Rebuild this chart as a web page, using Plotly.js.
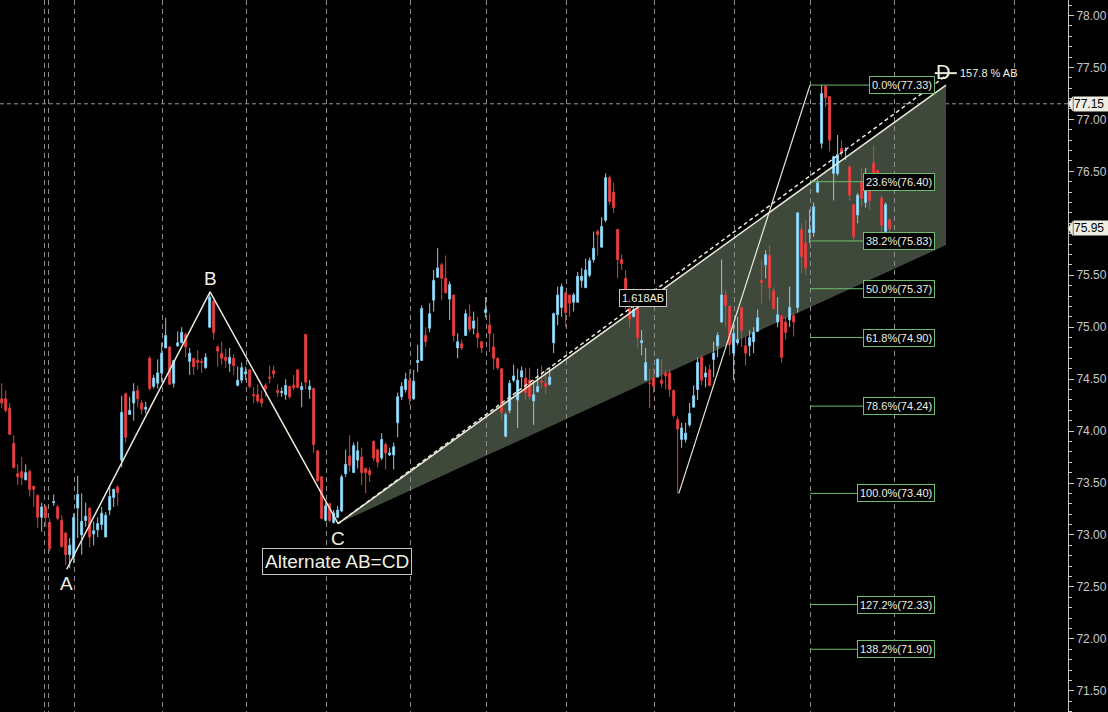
<!DOCTYPE html>
<html><head><meta charset="utf-8">
<script src="https://cdn.plot.ly/plotly-3.0.1.min.js"></script>
<style>html,body{margin:0;padding:0;background:#000;} #chart{width:1108px;height:712px;}</style>
</head><body><div id="chart"></div>
<script>
// ---- candle data (index order, oldest first) ----
const open = [74.31,74.31,74.22,73.88,73.59,73.61,73.53,73.61,73.47,73.38,73.17,73.27,73.12,73.31,73.27,73.14,73.02,72.81,72.79,73.26,
73.00,73.14,73.26,73.01,73.05,73.10,72.98,73.24,73.36,73.46,73.72,74.36,74.16,74.27,74.39,74.27,74.21,74.70,74.43,74.46,
74.56,74.80,74.81,74.46,74.82,74.85,74.93,74.67,74.70,74.68,74.67,74.61,75.00,75.25,74.81,74.75,74.71,74.65,74.70,74.44,
74.49,74.55,74.59,74.35,74.35,74.31,74.44,74.52,74.58,74.39,74.37,74.35,74.43,74.44,74.59,74.40,74.93,74.40,74.41,73.81,
73.56,73.14,73.30,73.12,73.17,73.23,73.59,73.76,73.60,73.72,73.75,73.64,73.62,73.90,73.82,73.74,73.87,73.77,73.77,74.08,
74.33,74.40,74.49,74.31,74.66,74.68,74.92,74.99,75.26,75.48,75.60,75.47,75.27,75.31,74.80,74.84,74.92,75.10,74.99,74.94,
74.86,75.14,75.02,74.81,74.70,74.60,73.95,74.20,74.49,74.30,74.52,74.51,74.49,74.29,74.38,74.48,74.46,74.45,74.85,75.12,
75.19,75.33,75.31,75.24,75.24,75.45,75.38,75.50,75.65,75.92,75.77,76.03,76.44,76.30,75.94,75.65,75.47,75.18,75.10,75.18,
74.85,74.49,74.46,74.51,74.52,74.49,74.56,74.56,74.39,74.11,73.92,73.92,74.06,74.23,74.40,74.71,74.52,74.59,74.69,74.82,
75.05,75.31,75.20,74.75,74.85,75.19,74.82,74.82,74.86,74.96,75.45,75.60,75.69,75.35,75.05,75.11,75.05,75.07,75.11,75.19,
75.94,75.81,75.91,75.91,76.30,76.77,77.32,77.22,76.48,76.48,76.72,76.70,76.54,76.18,76.08,76.40,76.20,76.35,76.58,76.51,
76.24,75.92,76.03];
const high = [74.46,74.39,74.27,73.96,73.68,73.75,73.68,73.63,73.47,73.39,73.31,73.29,73.16,73.39,73.29,73.19,73.02,72.97,73.21,73.57,
73.40,73.31,73.26,73.13,73.17,73.27,73.22,73.48,73.44,73.48,74.34,74.37,74.33,74.46,74.44,74.30,74.28,74.72,74.54,74.69,
74.85,75.09,74.81,74.68,74.96,75.00,74.95,74.80,74.70,74.78,74.70,74.75,75.34,75.26,74.83,74.86,74.79,74.80,74.74,74.62,
74.66,74.62,74.59,74.42,74.45,74.39,74.46,74.63,74.63,74.45,74.42,74.50,74.43,74.54,74.59,74.47,74.93,74.49,74.42,73.82,
73.56,73.31,73.31,73.24,73.28,73.58,73.82,73.96,73.89,73.90,73.84,73.65,73.65,73.91,73.82,73.98,73.89,73.84,73.89,74.37,
74.47,74.56,74.59,74.59,74.83,75.21,75.00,75.23,75.55,75.76,75.62,75.69,75.44,75.31,74.94,74.88,75.17,75.22,75.15,75.10,
74.86,75.29,75.13,74.94,74.71,74.60,74.18,74.49,74.64,74.60,74.62,74.61,74.61,74.49,74.60,74.63,74.59,74.61,75.14,75.39,
75.42,75.34,75.31,75.33,75.53,75.57,75.66,75.67,75.92,75.94,76.06,76.48,76.46,76.39,75.94,75.70,75.55,75.19,75.37,75.19,
74.97,74.80,74.60,74.61,74.70,74.69,74.59,74.59,74.40,74.14,74.08,74.08,74.27,74.44,74.71,74.73,74.62,74.64,74.86,74.95,
75.65,75.36,75.21,75.02,75.10,75.19,74.91,74.97,75.00,75.17,75.65,75.74,75.79,75.38,75.29,75.11,75.10,75.39,75.14,76.11,
76.00,76.03,76.13,76.20,76.42,77.33,77.33,77.22,76.65,76.85,76.80,76.73,76.56,76.18,76.29,76.54,76.53,76.49,76.75,76.51,
76.27,76.20,76.05];
const low = [74.22,74.18,73.96,73.64,73.48,73.48,73.53,73.37,73.27,73.07,73.03,73.08,72.84,73.28,73.14,72.88,72.71,72.68,72.73,72.97,
72.81,73.08,72.88,72.90,72.98,73.05,72.98,73.19,73.27,73.28,73.65,73.89,74.16,74.10,74.23,74.16,74.17,74.39,74.41,74.41,
74.47,74.80,74.45,74.42,74.81,74.85,74.71,74.54,74.54,74.59,74.56,74.60,74.99,74.88,74.62,74.64,74.61,74.57,74.54,74.43,
74.46,74.49,74.41,74.27,74.27,74.23,74.33,74.46,74.51,74.33,74.33,74.30,74.31,74.39,74.41,74.23,74.40,74.31,73.79,73.51,
73.15,73.13,73.12,73.11,73.16,73.22,73.56,73.61,73.60,73.64,73.48,73.40,73.51,73.71,73.65,73.72,73.63,73.76,73.63,73.94,
74.30,74.37,74.25,74.30,74.57,74.68,74.81,74.95,75.15,75.48,75.26,75.33,75.07,74.86,74.70,74.78,74.92,74.95,74.93,74.80,
74.75,75.09,74.76,74.59,74.59,74.11,73.94,74.17,74.47,74.03,74.42,74.30,74.30,74.06,74.37,74.41,74.35,74.44,74.75,75.02,
75.10,75.00,75.10,75.15,75.24,75.38,75.38,75.48,75.62,75.69,75.77,76.01,76.18,76.10,75.47,75.55,75.17,75.00,75.10,74.80,
74.73,74.49,74.22,74.37,74.52,74.42,74.40,74.33,74.13,73.40,73.84,73.89,74.04,74.23,74.30,74.44,74.42,74.43,74.52,74.71,
75.04,75.00,74.73,74.49,74.83,74.81,74.63,74.72,74.75,74.96,75.23,75.47,75.26,75.17,75.00,74.66,74.88,75.00,74.91,75.14,
75.52,75.50,75.81,75.87,76.29,76.72,77.12,76.69,76.22,76.46,76.64,76.61,76.22,75.82,76.00,76.16,76.15,76.13,76.40,76.35,
75.91,75.91,75.91];
const close = [74.27,74.20,73.97,73.65,73.56,73.55,73.60,73.44,73.44,73.17,73.27,73.17,72.87,73.32,73.16,72.89,72.81,72.90,73.17,73.39,
73.13,73.18,72.98,73.04,73.11,73.21,73.19,73.37,73.44,73.41,74.18,73.94,74.20,74.38,74.31,74.21,74.23,74.41,74.51,74.56,
74.75,74.92,74.45,74.68,74.85,74.95,74.81,74.75,74.62,74.66,74.66,74.71,75.29,74.95,74.77,74.70,74.68,74.71,74.63,74.49,
74.61,74.57,74.43,74.34,74.29,74.27,74.41,74.51,74.55,74.37,74.38,74.44,74.33,74.42,74.42,74.43,74.47,74.43,73.87,73.52,
73.16,73.28,73.14,73.21,73.24,73.56,73.68,73.67,73.86,73.81,73.60,73.60,73.58,73.74,73.70,73.92,73.79,73.79,73.85,74.33,
74.43,74.50,74.31,74.48,74.68,75.18,74.86,75.13,75.45,75.57,75.47,75.33,75.41,74.92,74.86,74.80,75.13,74.98,75.06,74.90,
74.80,75.17,74.94,74.70,74.61,74.18,74.16,74.46,74.53,74.49,74.58,74.37,74.33,74.35,74.43,74.47,74.43,74.52,75.13,75.31,
75.39,75.14,75.23,75.31,75.49,75.49,75.55,75.64,75.76,75.89,75.97,76.44,76.21,76.15,75.65,75.61,75.36,75.08,75.17,74.90,
74.87,74.66,74.46,74.43,74.69,74.46,74.53,74.40,74.15,74.02,74.03,73.98,74.17,74.34,74.66,74.49,74.56,74.44,74.75,74.92,
75.31,75.21,74.83,74.94,74.88,74.97,74.75,74.90,74.95,75.09,75.43,75.70,75.38,75.18,75.12,74.71,74.95,75.19,75.05,76.10,
75.68,75.57,75.94,76.16,76.39,77.25,77.21,76.80,76.64,76.66,76.68,76.70,76.27,75.87,76.27,76.24,76.46,76.22,76.48,76.42,
75.98,76.18,75.95];

// ---- pattern points (candle index, price) ----
const patternLabels = ['A', 'B', 'C'];
const patternX = [16.25, 52.1, 84.1];
const patternY = [72.67, 75.34, 73.11];
const projX = 236.1;          // end of projection fan
const projUpper = 77.33;      // solid edge
const projD = 77.42;          // D (dashed edge)
const projLower = 75.79;      // lower edge of fan
const dLabel = '157.8 % AB';
const extLabel = '1.618AB';
const extPoint = [160.3, 75.28];

// ---- Fibonacci retracement ----
const swingX = [169.3, 202.1];
const swingY = [73.40, 77.33];
const fibRatios = ['0.0', '23.6', '38.2', '50.0', '61.8', '78.6', '100.0', '127.2', '138.2'];
const fibValues = [77.33, 76.40, 75.83, 75.37, 74.90, 74.24, 73.40, 72.33, 71.90];

// ---- axes ----
const yRange = [71.296, 78.149];
const xRange = [-0.425, 266.6];
const yTickVals = [71.5, 72.0, 72.5, 73.0, 73.5, 74.0, 74.5, 75.0, 75.5, 76.5, 77.0, 77.5, 78.0];
const sessionBreaks = [10.6, 11.6, 18.1, 40.1, 61.3, 81.3, 102.3, 121.3, 141.3, 163.1, 183.1, 202.3, 223.3, 253.1];
const crossPrice = 77.15;
const lastPrice = 75.95;

const idx = close.map((_, i) => i);
const W = '#e8e8d8';
const FONT = 'Liberation Sans, Arial, sans-serif';

const traces = [
  {
    type: 'candlestick', x: idx, open: open, high: high, low: low, close: close,
    increasing: {line: {color: '#84ccee', width: 1}, fillcolor: '#b8e4f6'},
    decreasing: {line: {color: '#e23c3c', width: 1}, fillcolor: '#e04646'},
    whiskerwidth: 0, hoverinfo: 'skip'
  },
  { x: [patternX[2], projX], y: [patternY[2], projD], mode: 'lines', line: {color: W, width: 1.5, dash: '4px,3px'}, hoverinfo: 'skip' },
  { x: [patternX[2], projX], y: [patternY[2], projUpper], mode: 'lines', line: {color: W, width: 1.5}, hoverinfo: 'skip' },
  { x: patternX, y: patternY, mode: 'lines', line: {color: W, width: 1.5}, hoverinfo: 'skip' },
  { x: swingX, y: swingY, mode: 'lines', line: {color: W, width: 1.2}, hoverinfo: 'skip' }
];

const shapes = [
  { // fan shading, under the candles
    type: 'path', xref: 'x', yref: 'y', layer: 'below',
    path: `M ${patternX[2]},${patternY[2]} L ${projX},${projUpper} L ${projX},${projLower} Z`,
    fillcolor: '#3e493c', line: {width: 0}
  },
  {type: 'line', xref: 'paper', yref: 'y', x0: 0, x1: 1, y0: crossPrice, y1: crossPrice,
   line: {color: '#9a9a9a', width: 1, dash: '4px,3px'}, layer: 'below'},
  {type: 'line', xref: 'x', yref: 'y', x0: projX - 2.8, x1: projX + 2.7, y0: projD + 0.025, y1: projD + 0.025,
   line: {color: W, width: 2}}
];
fibValues.forEach(v => {
  shapes.push({type: 'line', xref: 'x', yref: 'y', x0: swingX[1], x1: 230, y0: v, y1: v,
               line: {color: '#6dbb6d', width: 1}});
});
// arrow tips of the price tags on the axis
function tip(v) {
  const h = 0.068;
  return {type: 'path', xref: 'paper', yref: 'y',
    path: `M 1,${v} L 1.0045,${v + h} L 1.0045,${v - h} Z`,
    fillcolor: '#eeeee2', line: {color: '#cfcfc0', width: 1}};
}
shapes.push(tip(crossPrice), tip(lastPrice));

const annotations = [];
const letterShift = [-2, 1, -2];
patternLabels.forEach((t, k) => {
  annotations.push({x: patternX[k], y: patternY[k], text: t, showarrow: false,
    yshift: letterShift[k], yanchor: letterShift[k] < 0 ? 'top' : 'bottom',
    font: {family: FONT, size: 19, color: '#f0f0e0'}});
});
annotations.push({x: projX - 0.8, y: projD, text: 'D', showarrow: false, yshift: 4,
  font: {family: FONT, size: 20, color: '#f0f0e0'}});
annotations.push({x: projX + 3.0, y: projD + 0.03, text: dLabel, showarrow: false, xanchor: 'left',
  font: {family: FONT, size: 11, color: '#f0f0e0'}});
annotations.push({x: extPoint[0], y: extPoint[1], text: extLabel, showarrow: false,
  bgcolor: '#000', bordercolor: '#c8c8c0', borderwidth: 1, borderpad: 2,
  font: {family: FONT, size: 11, color: '#f0f0e0'}});
annotations.push({x: patternX[2] - 0.2, y: 72.745, text: 'Alternate AB=CD', showarrow: false,
  bgcolor: '#000', bordercolor: '#c8c8c0', borderwidth: 1, borderpad: 2,
  font: {family: FONT, size: 19, color: '#f0f0e0'}});
fibValues.forEach((v, k) => {
  annotations.push({x: 233.3, y: v, xanchor: 'right', text: fibRatios[k] + '%(' + v.toFixed(2) + ')',
    showarrow: false, bgcolor: '#000', bordercolor: '#6dbb6d', borderwidth: 1, borderpad: 2,
    font: {family: FONT, size: 11, color: '#f0f0e0'}});
});
[crossPrice, lastPrice].forEach(v => {
  annotations.push({xref: 'paper', x: 1.0045, y: v, xanchor: 'left', text: v.toFixed(2), showarrow: false,
    bgcolor: '#eeeee2', borderpad: 0, width: 34, align: 'left',
    font: {family: FONT, size: 12, color: '#000'}});
});

const layout = {
  width: 1108, height: 712,
  margin: {l: 0, r: 40, t: 0, b: 0, pad: 0},
  paper_bgcolor: '#000', plot_bgcolor: '#000',
  showlegend: false, dragmode: false,
  xaxis: {range: xRange, rangeslider: {visible: false}, tickmode: 'array', tickvals: sessionBreaks,
    showticklabels: false, ticks: '', showgrid: true, gridcolor: '#8c8c8c', gridwidth: 1, griddash: '5px,4px',
    zeroline: false, showline: false, fixedrange: true},
  yaxis: {side: 'right', range: yRange, tickmode: 'array', tickvals: yTickVals, tickformat: '.2f',
    ticks: 'outside', ticklen: 5,
    tickcolor: '#c8c8c8', showline: true, linecolor: '#c8c8c8', linewidth: 1, showgrid: false, zeroline: false,
    tickfont: {family: FONT, size: 12, color: '#c8c8c8'},
    minor: {dtick: 0.1, ticks: 'outside', ticklen: 3, tickcolor: '#c8c8c8', showgrid: false}, fixedrange: true},
  shapes: shapes, annotations: annotations
};
Plotly.newPlot('chart', traces, layout, {displayModeBar: false, staticPlot: true});
</script></body></html>
